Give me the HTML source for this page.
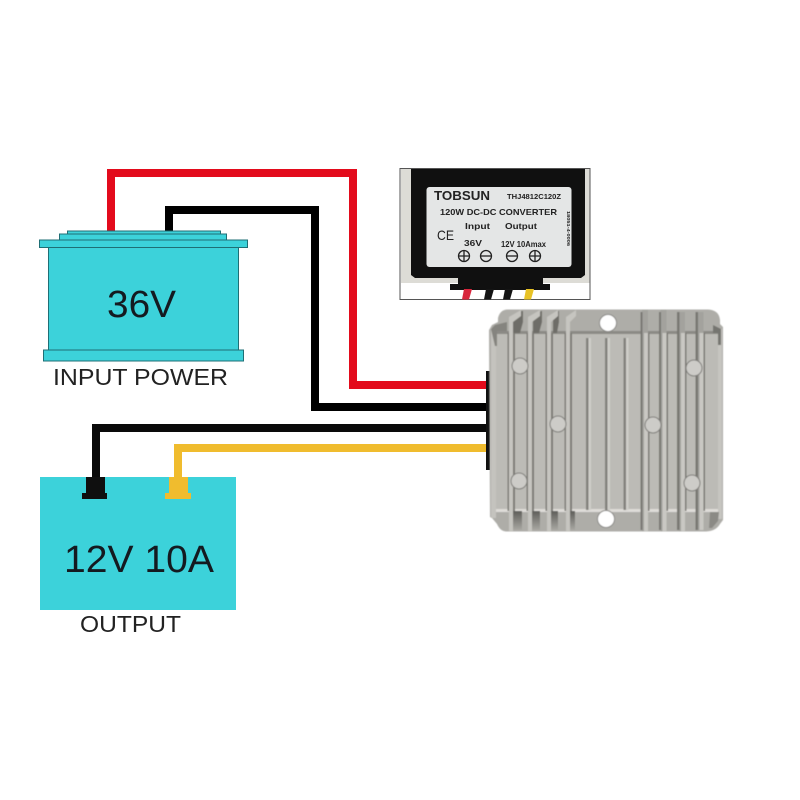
<!DOCTYPE html>
<html><head><meta charset="utf-8"><style>
html,body{margin:0;padding:0;background:#fff}
svg{display:block}
text{font-family:"Liberation Sans",sans-serif}
</style></head><body>
<svg width="800" height="800" viewBox="0 0 800 800" xmlns="http://www.w3.org/2000/svg">
<defs>
<linearGradient id="wedge" x1="0" y1="0" x2="0" y2="1"><stop offset="0" stop-color="#5f5e5a"/><stop offset="1" stop-color="#a8a7a2"/></linearGradient>
<filter id="b" x="-5%" y="-5%" width="110%" height="110%"><feGaussianBlur stdDeviation="0.55"/></filter>
<filter id="t" x="-5%" y="-5%" width="110%" height="110%"><feGaussianBlur stdDeviation="0.3"/></filter>
</defs>
<rect width="800" height="800" fill="#fff"/>

<!-- wires -->
<g fill="none" stroke-width="8">
<path d="M111 233V173H353V385H490" stroke="#e30b1c"/>
<path d="M169 233V210H315V407H490" stroke="#000"/>
<path d="M96 480V428H490" stroke="#0a0a0a"/>
<path d="M178 480V448H490" stroke="#f0bc2e"/>
</g>

<!-- input battery -->
<g fill="#3cd2da" stroke="#1f6f75" stroke-width="1">
<rect x="67.500" y="231" width="153" height="4"/>
<rect x="59.500" y="234" width="167" height="6"/>
<rect x="48.500" y="247" width="190" height="103"/>
<rect x="39.500" y="240" width="208" height="7.500"/>
<rect x="43.500" y="350" width="200" height="11"/>
</g>
<text x="107" y="317" font-size="38" fill="#141a20" textLength="69" lengthAdjust="spacingAndGlyphs" style="font-family:'Liberation Sans','Noto Sans CJK KR',sans-serif">36V</text>
<text x="53" y="385" font-size="23.500" fill="#222" textLength="175" lengthAdjust="spacingAndGlyphs">INPUT POWER</text>

<!-- output block -->
<rect x="40" y="477" width="196" height="133" fill="#3cd2da"/>
<path d="M86 477H105V493H107V499H82V493H86Z" fill="#0f0f0f"/>
<path d="M169 477H188V493H191V499H165V493H169Z" fill="#f0bc2e"/>
<text x="64" y="572" font-size="38" fill="#141a20" textLength="150" lengthAdjust="spacingAndGlyphs">12V 10A</text>
<text x="80" y="632" font-size="23.500" fill="#222" textLength="101" lengthAdjust="spacingAndGlyphs">OUTPUT</text>

<!-- inset photo -->
<rect x="400" y="168.500" width="190" height="131" fill="#fff" stroke="#555" stroke-width="1"/>
<rect x="401" y="169" width="188.500" height="114" fill="#dddcd6"/>
<path d="M411 169H585V275L581 278H543V284H550V290H450V284H458V278H415L411 275Z" fill="#101010"/>
<rect x="426.500" y="187" width="145" height="80" rx="3" fill="#e4e6e6"/>
<path d="M464 289h8l-3 10.500h-7z" fill="#d8263c"/>
<path d="M486 289h8l-3 10.500h-7z" fill="#141414"/>
<path d="M505 289h8l-3 10.500h-7z" fill="#141414"/>
<path d="M526 289h8l-3 10.500h-7z" fill="#e8c225"/>
<g filter="url(#t)">
<g fill="#222" font-weight="bold">
<text x="434" y="200" font-size="12.500" textLength="56" lengthAdjust="spacingAndGlyphs">TOBSUN</text>
<text x="507" y="199" font-size="7" textLength="54" lengthAdjust="spacingAndGlyphs">THJ4812C120Z</text>
<text x="440" y="215" font-size="8.500" textLength="117" lengthAdjust="spacingAndGlyphs">120W DC-DC CONVERTER</text>
<text x="465" y="229" font-size="8.500" textLength="25" lengthAdjust="spacingAndGlyphs">Input</text>
<text x="505" y="229" font-size="8.500" textLength="32" lengthAdjust="spacingAndGlyphs">Output</text>
<text x="464" y="246" font-size="8.500" textLength="18" lengthAdjust="spacingAndGlyphs">36V</text>
<text x="501" y="247" font-size="8" textLength="45" lengthAdjust="spacingAndGlyphs">12V 10Amax</text>
<text x="437" y="240" font-size="14" font-weight="normal" textLength="17" lengthAdjust="spacingAndGlyphs">CE</text>
<text transform="translate(567,211) rotate(90)" font-size="4.500" textLength="35" lengthAdjust="spacingAndGlyphs">18051-4-0006</text>
</g>
<g fill="none" stroke="#222" stroke-width="1.300">
<circle cx="464" cy="256" r="5.500"/><path d="M458.500 256h11M464 250.500v11"/>
<circle cx="486" cy="256" r="5.500"/><path d="M480.500 256h11"/>
<circle cx="512" cy="256" r="5.500"/><path d="M506.500 256h11"/>
<circle cx="535" cy="256" r="5.500"/><path d="M529.500 256h11M535 250.500v11"/>
</g>
</g>

<!-- converter -->
<rect x="486" y="371" width="4" height="99" fill="#111"/>
<g filter="url(#b)">
<!-- outline -->
<path d="M507 309.500H708Q719 310 720 320V324L723 327V520L720 524Q716 531 706 531.500H506Q500 531 497 524L492 518L490 517L489 330L492 325L498 322V318Q500 310 507 309.500Z" fill="#aeada8"/>
<!-- main panel -->
<rect x="496" y="333" width="222" height="178" fill="#bcbbb6"/>
<rect x="491" y="328" width="5" height="190" fill="#c4c3be"/>
<rect x="718" y="329" width="4" height="190" fill="#c6c5c0"/>
<rect x="496" y="509" width="222" height="3" fill="#dedcd8"/>
<rect x="496" y="331" width="222" height="3" fill="#8b8a85"/>
<!-- flange corners -->
<path d="M491 329L495 325L507 322V331H497V346H495Z" fill="#85847f"/>
<path d="M713 325L721 329V345H718V333H713Z" fill="#75746f"/>
<path d="M710 512H719L718 521L712 528H709Z" fill="#8b8a85"/>
<!-- left fins: dark top wedges -->
<g fill="#6e6d68">
<path d="M513 333V318L521 311L523 311V322L520 333Z"/>
<path d="M533 333V318L541 311L542 311V322L539 333Z"/>
<path d="M553 333V318L558 311L559 311V322L557 333Z"/>
</g>
<!-- left fins: dark bottom wedges -->
<g fill="url(#wedge)">
<rect x="511" y="511" width="11" height="19"/>
<rect x="529" y="511" width="11" height="19"/>
<rect x="549" y="511" width="9" height="19"/>
<rect x="567" y="511" width="8" height="19"/>
</g>
<!-- left fins ridges -->
<g fill="#c6c5c0">
<path d="M509 333V317L521 310V316L513 322V531H509Z"/>
<path d="M528 333V317L540 310V316L532 322V531H528Z"/>
<path d="M547 333V317L558 310V316L551 322V531H547Z"/>
<path d="M566 333V317L576 310V316L570 322V531H566Z"/>
</g>
<g fill="#7b7a75">
<rect x="513" y="333" width="2" height="178"/>
<rect x="532" y="333" width="2" height="178"/>
<rect x="551" y="333" width="2" height="178"/>
<rect x="570" y="333" width="2" height="178"/>
<rect x="507.500" y="333" width="1.500" height="178"/>
<rect x="526.500" y="333" width="1.500" height="178"/>
<rect x="545.500" y="333" width="1.500" height="178"/>
<rect x="564.500" y="333" width="1.500" height="178"/>
</g>
<!-- centre ribs -->
<g fill="#82817c">
<rect x="586" y="338" width="2.500" height="172"/>
<rect x="605" y="338" width="2.500" height="172"/>
<rect x="623.500" y="338" width="2.500" height="172"/>
</g>
<g fill="#cfcec9">
<rect x="588.500" y="338" width="2.500" height="172"/>
<rect x="607.500" y="338" width="2.500" height="172"/>
<rect x="626" y="338" width="2.500" height="172"/>
</g>
<!-- right fins -->
<g fill="#a3a29d">
<rect x="642" y="310" width="6" height="221"/>
<rect x="660.500" y="310" width="6" height="221"/>
<rect x="679" y="312" width="6" height="219"/>
<rect x="697.500" y="312" width="6" height="218"/>
</g>
<g fill="#c9c8c3">
<rect x="644" y="333" width="4" height="198"/>
<rect x="662.500" y="333" width="4" height="198"/>
<rect x="681" y="333" width="4" height="198"/>
<rect x="699.500" y="333" width="4" height="197"/>
</g>
<g fill="#787772">
<rect x="640.500" y="312" width="2" height="218"/>
<rect x="659" y="312" width="2" height="218"/>
<rect x="677" y="312" width="2.500" height="218"/>
<rect x="695.500" y="312" width="2.500" height="218"/>
<rect x="648" y="333" width="1.500" height="178"/>
<rect x="666.500" y="333" width="1.500" height="178"/>
<rect x="685" y="333" width="1.500" height="178"/>
<rect x="703.500" y="333" width="1.500" height="178"/>
</g>
<!-- mounting holes -->
<circle cx="608" cy="323" r="8.500" fill="#fff" stroke="#8a8986" stroke-width="1"/>
<circle cx="606" cy="519" r="8.500" fill="#fff" stroke="#8a8986" stroke-width="1"/>
<!-- pins -->
<g fill="#cdccc8" stroke="#7e7d79" stroke-width="1">
<circle cx="520" cy="366" r="8"/>
<circle cx="694" cy="368" r="8"/>
<circle cx="558" cy="424" r="8"/>
<circle cx="653" cy="425" r="8"/>
<circle cx="519" cy="481" r="8"/>
<circle cx="692" cy="483" r="8"/>
</g>
</g>
</svg>
</body></html>
